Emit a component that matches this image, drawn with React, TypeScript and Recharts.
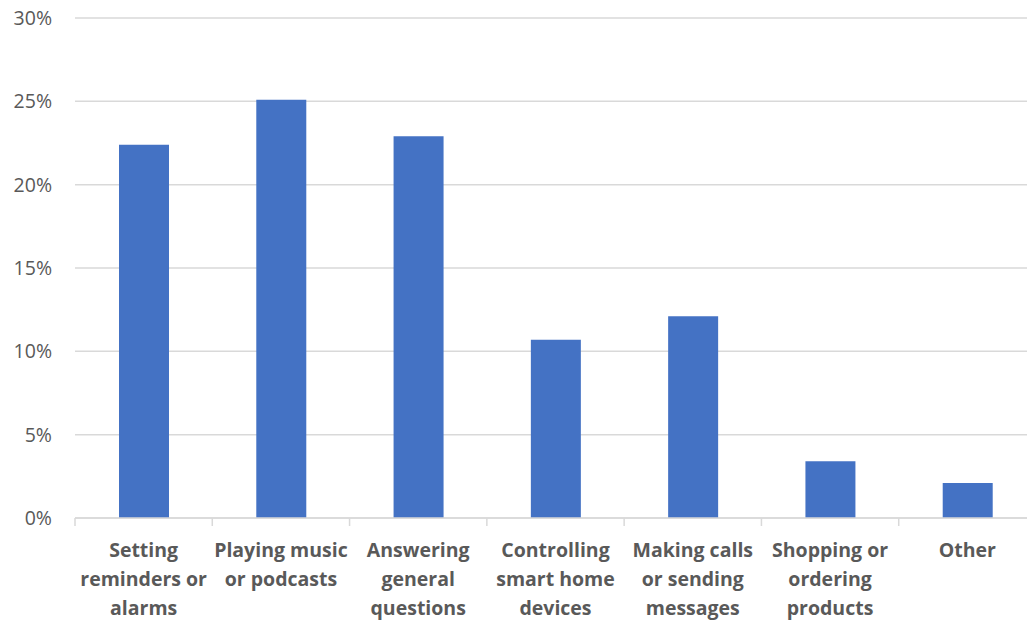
import { Bar, BarChart, CartesianGrid, XAxis, YAxis } from "recharts"

const categories = [
  "Setting reminders or alarms",
  "Playing music or podcasts",
  "Answering general questions",
  "Controlling smart home devices",
  "Making calls or sending messages",
  "Shopping or ordering products",
  "Other",
]

// wrapped tick labels, as drawn under each bar
const labelLines = [
  ["Setting", "reminders or", "alarms"],
  ["Playing music", "or podcasts"],
  ["Answering", "general", "questions"],
  ["Controlling", "smart home", "devices"],
  ["Making calls", "or sending", "messages"],
  ["Shopping or", "ordering", "products"],
  ["Other"],
]

const shares = [22.4, 25.1, 22.9, 10.7, 12.1, 3.4, 2.1]

const yTicks = [0, 5, 10, 15, 20, 25, 30]

const data = categories.map((name, i) => ({ name, value: shares[i] }))

const W = 1040
const H = 622
const xHeight = 30
const margin = { top: 18, right: 4, left: 0, bottom: 104 - xHeight }
const yWidth = 75
const band = (W - margin.left - margin.right - yWidth) / categories.length

function CategoryTick(props: any) {
  const { x, y, payload, index } = props
  const lines = labelLines[index] || [payload.value]
  const top = y - 8
  const left = x - band / 2
  const right = x + band / 2
  return (
    <g>
      <line x1={left} x2={left} y1={top} y2={top + 8} stroke="#d9d9d9" strokeWidth={1.5} />
      {index === categories.length - 1 && (
        <line x1={right} x2={right} y1={top} y2={top + 8} stroke="#d9d9d9" strokeWidth={1.5} />
      )}
      <text
        x={x}
        y={top + 39}
        textAnchor="middle"
        fill="#595959"
        fontSize={19.5}
        fontWeight="bold"
        fontFamily="'Open Sans', sans-serif"
      >
        {lines.map((l: string, i: number) => (
          <tspan key={i} x={x} dy={i === 0 ? 0 : 29}>
            {l}
          </tspan>
        ))}
      </text>
    </g>
  )
}

export default function App() {
  return (
    <div style={{ position: "absolute", left: 0, top: 0, width: 1027, height: 622, overflow: "hidden", background: "#fff" }}>
      <BarChart width={W} height={H} data={data} margin={margin}>
        <CartesianGrid vertical={false} stroke="#d9d9d9" strokeWidth={1.5} />
        <XAxis
          dataKey="name"
          height={xHeight}
          interval={0}
          tickLine={false}
          axisLine={{ stroke: "#d9d9d9", strokeWidth: 1.5 }}
          tick={<CategoryTick />}
        />
        <YAxis
          width={yWidth}
          domain={[0, 30]}
          ticks={yTicks}
          axisLine={false}
          tickLine={false}
          tickSize={0}
          tickMargin={23}
          tickFormatter={(v) => `${v}%`}
          tick={{ fill: "#595959", fontSize: 19.5, fontFamily: "'Open Sans', sans-serif" }}
        />
        <Bar dataKey="value" fill="#4472c4" barSize={50} isAnimationActive={false} />
      </BarChart>
    </div>
  )
}
